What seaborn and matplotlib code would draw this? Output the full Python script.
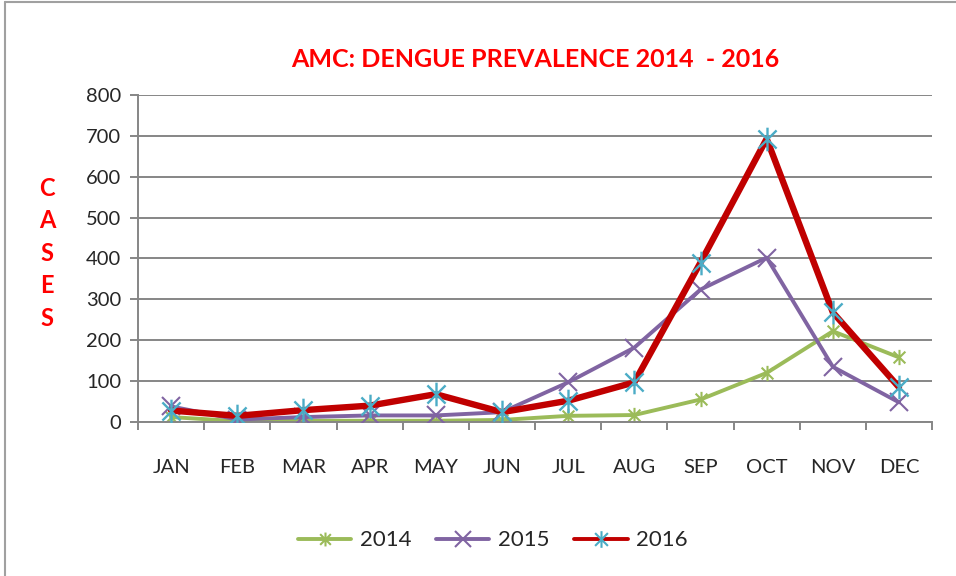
# AMC dengue prevalence 2014-2016, monthly cases

import matplotlib
matplotlib.use('Agg')
import matplotlib.pyplot as plt
from matplotlib.path import Path
from matplotlib.lines import Line2D
import seaborn as sns

months = ['JAN', 'FEB', 'MAR', 'APR', 'MAY', 'JUN', 'JUL', 'AUG', 'SEP', 'OCT', 'NOV', 'DEC']
cases_2014 = [12, 2, 3, 3, 3, 5, 15, 17, 55, 120, 222, 158]
cases_2015 = [38, 6, 12, 16, 16, 24, 97, 182, 324, 402, 135, 48]
cases_2016 = [28, 15, 29, 40, 68, 24, 52, 97, 390, 693, 268, 85]
yticks = [0, 100, 200, 300, 400, 500, 600, 700, 800]

sns.set_style('white')
plt.rcParams['font.family'] = ['Lato', 'DejaVu Sans']

# excel-like "star" marker: an x with a vertical bar
star = Path([(-1, -1), (1, 1), (-1, 1), (1, -1), (0, -1.3), (0, 1.3)],
            [Path.MOVETO, Path.LINETO, Path.MOVETO, Path.LINETO, Path.MOVETO, Path.LINETO])

fig = plt.figure(figsize=(9.56, 5.76), dpi=100)
ax = fig.add_axes([0.1444, 0.2674, 0.8306, 0.5677])

x = list(range(len(months)))
sns.lineplot(x=x, y=cases_2014, ax=ax, sort=False, color='#9bbb59', linewidth=2.8,
             marker=star, markersize=11, markeredgewidth=1.5, markeredgecolor='#9bbb59',
             label='2014', zorder=2)
sns.lineplot(x=x, y=cases_2015, ax=ax, sort=False, color='#8064a2', linewidth=2.8,
             marker='x', markersize=13, markeredgewidth=1.5, markeredgecolor='#8064a2',
             label='2015', zorder=3)
sns.lineplot(x=x, y=cases_2016, ax=ax, sort=False, color='#c00000', linewidth=4.6,
             marker=star, markersize=17, markeredgewidth=1.7, markeredgecolor='#4bacc6',
             label='2016', zorder=4)

ax.set_xlim(-0.5, 11.5)
ax.set_ylim(0, 800)
ax.set_yticks(yticks)
ax.set_xticks(x)
ax.set_xticklabels(months)
ax.set_xticks([i - 0.5 for i in range(13)], minor=True)
ax.grid(axis='y', color='#868686', linewidth=1.4)
ax.set_axisbelow(True)
for side in ['top', 'right']:
    ax.spines[side].set_visible(False)
for side in ['left', 'bottom']:
    ax.spines[side].set_color('#868686')
    ax.spines[side].set_linewidth(1.4)
ax.tick_params(axis='y', which='major', length=6, width=1.4, color='#868686',
               labelsize=14.5, pad=6, left=True)
ax.tick_params(axis='x', which='major', length=0, labelsize=14.5, pad=27)
ax.tick_params(axis='x', which='minor', length=6, width=1.4, color='#868686', bottom=True)
ax.set_xlabel('')
ax.set_ylabel('')

ax.set_title('AMC: DENGUE PREVALENCE 2014  - 2016', color='#ff0000', fontsize=18,
             fontweight='bold', pad=20)
fig.text(0.049, 0.56, 'C\nA\nS\nE\nS', color='#ff0000', fontsize=17, fontweight='bold',
         ha='center', va='center', linespacing=1.5)

handles = [
    Line2D([], [], color='#9bbb59', linewidth=2.8, marker=star, markersize=10,
           markeredgewidth=1.5, markeredgecolor='#9bbb59'),
    Line2D([], [], color='#8064a2', linewidth=2.8, marker='x', markersize=12,
           markeredgewidth=1.5, markeredgecolor='#8064a2'),
    Line2D([], [], color='#c00000', linewidth=2.8, marker=star, markersize=12,
           markeredgewidth=1.5, markeredgecolor='#4bacc6'),
]
ax.legend(handles, ['2014', '2015', '2016'], loc='center', bbox_to_anchor=(0.447, -0.362),
          ncol=3, frameon=False, fontsize=16, handlelength=2.4, columnspacing=1.1,
          handletextpad=0.4)

# outer chart border (left and top edges visible)
fig.add_artist(Line2D([0.005, 0.005], [0, 0.997], color='#a0a0a0', linewidth=1.5))
fig.add_artist(Line2D([0.005, 1.0], [0.997, 0.997], color='#a0a0a0', linewidth=1.5))

fig.savefig('out.png', dpi=100)
